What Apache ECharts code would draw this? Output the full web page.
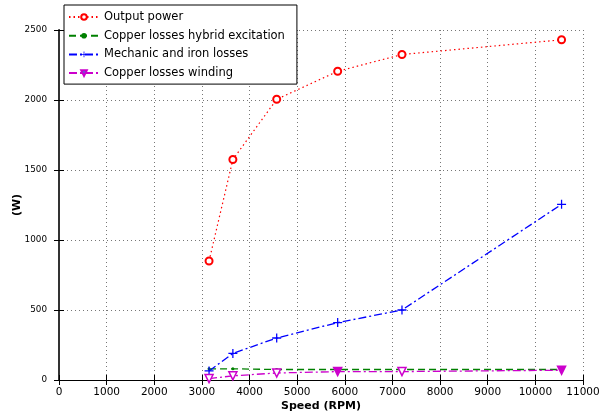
<!DOCTYPE html>
<html><head><meta charset="utf-8">
<script src="https://cdn.jsdelivr.net/npm/echarts@6/dist/echarts.min.js"></script>
<style>html,body{margin:0;padding:0;background:#fff}#c{width:601px;height:414px}</style>
</head><body><div id="c"></div>
<script>
const speed = [3150, 3650, 4570, 5850, 7200, 10550];
const outputPower = [850, 1575, 2005, 2205, 2325, 2430];
const copperHybrid = [80, 80, 75, 75, 75, 75];
const mechIron = [65, 190, 300, 410, 500, 1255];
const copperWinding = [10, 30, 50, 60, 60, 70];
const xTicks = [0, 1000, 2000, 3000, 4000, 5000, 6000, 7000, 8000, 9000, 10000, 11000];
const yTicks = [0, 500, 1000, 1500, 2000, 2500];
const names = ['Output power', 'Copper losses hybrid excitation', 'Mechanic and iron losses', 'Copper losses winding'];

const pair = arr => speed.map((s, i) => [s, arr[i]]);
const FONT = 'DejaVu Sans';
const chart = echarts.init(document.getElementById('c'), null, {renderer: 'canvas'});
const plus = 'path://M4.3,0H5.7V4.3H10V5.7H5.7V10H4.3V5.7H0V4.3H4.3Z';
const gridLine = {show: true, lineStyle: {type: [1, 3], color: '#777', width: 1}};
const plain = v => String(v);
chart.setOption({
  animation: false,
  backgroundColor: '#fff',
  textStyle: {fontFamily: FONT},
  grid: {left: 59, right: 18, top: 30, bottom: 34, containLabel: false, outerBoundsMode: 'none'},
  legend: {
    orient: 'vertical', left: 64, top: 5,
    backgroundColor: '#fff', borderColor: '#000', borderWidth: 1,
    padding: [6, 12, 5, 4], itemGap: 6.7, itemWidth: 30, itemHeight: 7,
    textStyle: {fontFamily: FONT, fontSize: 11.5, color: '#000'},
    data: names
  },
  xAxis: [{
    type: 'value', min: xTicks[0], max: xTicks[xTicks.length - 1], interval: 1000,
    name: 'Speed (RPM)', nameLocation: 'middle', nameGap: 21, nameMoveOverlap: false,
    nameTextStyle: {fontFamily: FONT, fontSize: 11, fontWeight: 'bold', color: '#000'},
    axisLine: {lineStyle: {color: '#000', width: 1}},
    axisTick: {inside: true, length: 5, lineStyle: {color: '#000'}},
    axisLabel: {margin: 7, fontSize: 10.5, color: '#000', fontFamily: FONT, formatter: plain},
    splitLine: gridLine
  }, {
    type: 'value', position: 'top', min: xTicks[0], max: xTicks[xTicks.length - 1], interval: 1000,
    axisLine: {show: true, lineStyle: {color: '#000', width: 1}},
    axisTick: {show: true, inside: true, length: 5, lineStyle: {color: '#000'}},
    axisLabel: {show: false}, splitLine: {show: false}
  }],
  yAxis: [{
    type: 'value', min: yTicks[0], max: yTicks[yTicks.length - 1], interval: 500,
    name: '(W)', nameLocation: 'middle', nameGap: 36, nameMoveOverlap: false,
    nameTextStyle: {fontFamily: FONT, fontSize: 11, fontWeight: 'bold', color: '#000'},
    axisLine: {show: true, lineStyle: {color: '#000', width: 1}},
    axisTick: {show: true, inside: true, length: 5, lineStyle: {color: '#000'}},
    axisLabel: {margin: 12, fontSize: 8.8, color: '#000', fontFamily: FONT, formatter: plain},
    splitLine: gridLine
  }, {
    type: 'value', position: 'right', min: yTicks[0], max: yTicks[yTicks.length - 1], interval: 500,
    axisLine: {show: true, lineStyle: {color: '#333', width: 2}},
    axisTick: {show: true, inside: true, length: 5, lineStyle: {color: '#000'}},
    axisLabel: {show: false}, splitLine: {show: false}
  }],
  series: [{
    name: names[0], type: 'line', data: pair(outputPower),
    symbol: 'emptyCircle', symbolSize: 7,
    itemStyle: {color: '#ff0000', borderWidth: 1.5},
    lineStyle: {color: '#ff0000', width: 1.2, type: [1.5, 3]}
  }, {
    name: names[1], type: 'line', data: pair(copperHybrid),
    symbol: 'circle', symbolSize: 3,
    itemStyle: {color: '#008000'},
    lineStyle: {color: '#008000', width: 1.3, type: [7, 4]}
  }, {
    name: names[2], type: 'line', data: pair(mechIron),
    symbol: plus, symbolSize: 9,
    itemStyle: {color: '#0000ff'},
    lineStyle: {color: '#0000ff', width: 1.3, type: [8, 3, 2, 3]}
  }, {
    name: names[3], type: 'line', data: pair(copperWinding),
    symbol: 'triangle', symbolRotate: 180, symbolSize: 8,
    itemStyle: {color: p => (p.dataIndex === 3 || p.dataIndex === 5) ? '#cc00cc' : '#ffffff', borderColor: '#cc00cc', borderWidth: 1.5},
    lineStyle: {color: '#cc00cc', width: 1.3, type: [8, 3, 2, 3]}
  }]
});
</script></body></html>
